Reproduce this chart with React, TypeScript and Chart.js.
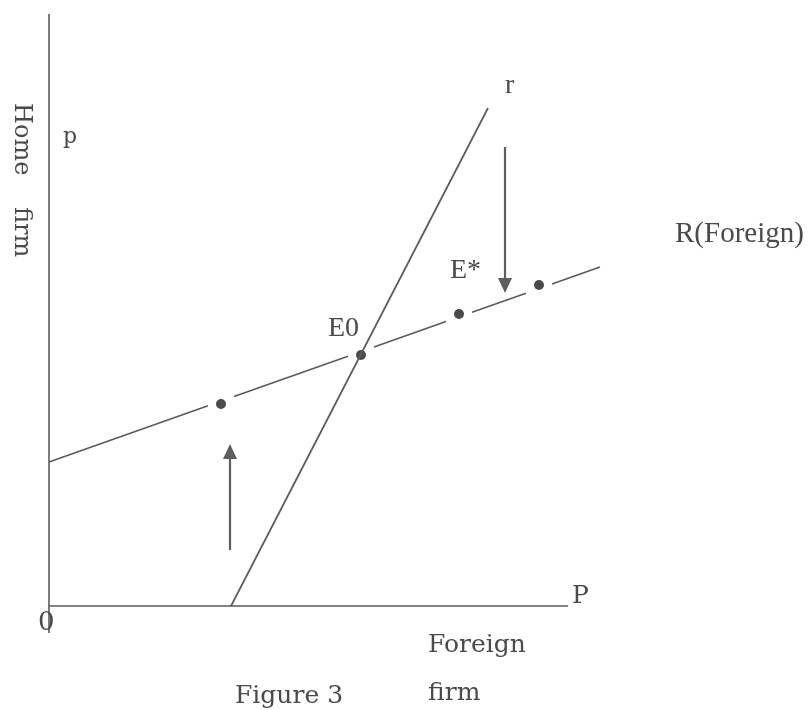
import React, { useEffect, useRef } from "react";
import { Chart, registerables } from "chart.js";

Chart.register(...registerables);

// Diagram units: 1 unit ≈ 50 px, origin at O
const rLineFoot = { x: 3.64, y: 0 };
const rLineTop = { x: 8.78, y: 9.96 };
const RLineStart = { x: 0, y: 2.88 };
const RLineEnd = { x: 11.02, y: 6.78 };
const dotX = [3.44, 6.24, 8.2, 9.8];
const dotY = [4.04, 5.02, 5.84, 6.42];
const dotGap = 0.26;
const axisYTop = 11.84;
const axisYBottom = -0.54;
const axisXEnd = 10.38;
const arrowX = [9.12, 3.62];
const arrowFrom = [9.18, 1.12];
const arrowTo = [6.26, 3.24];

const labelText = ["r", "p", "Home", "firm", "R(Foreign)", "E*", "E0", "0", "P", "Foreign", "firm", "Figure 3"];
const labelX = [9.12, 0.28, -0.68, -0.68, 12.52, 8.02, 5.58, -0.22, 10.46, 7.58, 7.58, 3.72];
const labelY = [10.26, 9.26, 10.06, 7.98, 7.28, 6.56, 5.4, -0.48, 0.06, -0.92, -1.88, -1.94];
const labelFont = [
  "28px 'Liberation Serif'",
  "22px 'DejaVu Serif'",
  "24px 'DejaVu Serif'",
  "24px 'DejaVu Serif'",
  "29px 'Liberation Serif'",
  "28px 'Liberation Serif'",
  "28px 'Liberation Serif'",
  "26px 'DejaVu Serif'",
  "25px 'DejaVu Serif'",
  "25px 'DejaVu Serif'",
  "25px 'DejaVu Serif'",
  "25px 'DejaVu Serif'",
];
const labelRotated = [false, false, true, true, false, false, false, false, false, false, false, false];

const LINE = "#5a5a5a";
const INK = "#4a4a4a";

function lineY(x: number) {
  const k = (RLineEnd.y - RLineStart.y) / (RLineEnd.x - RLineStart.x);
  return RLineStart.y + k * (x - RLineStart.x);
}

function App() {
  const ref = useRef<HTMLCanvasElement | null>(null);
  useEffect(() => {
    if (!ref.current) return;
    // R line broken around each dot
    const breaks = [RLineStart.x, ...dotX.flatMap((d) => [d - dotGap, d + dotGap]), RLineEnd.x];
    const segs: any[] = [];
    for (let i = 0; i < breaks.length; i += 2) {
      segs.push({
        data: [
          { x: breaks[i], y: lineY(breaks[i]) },
          { x: breaks[i + 1], y: lineY(breaks[i + 1]) },
        ],
        showLine: true,
        borderColor: LINE,
        borderWidth: 1.6,
        pointRadius: 0,
        clip: false,
      });
    }
    const lineDs = (pts: { x: number; y: number }[], w: number) => ({
      data: pts,
      showLine: true,
      borderColor: LINE,
      borderWidth: w,
      pointRadius: 0,
      clip: false,
    });
    const datasets: any[] = [
      lineDs([{ x: 0, y: axisYTop }, { x: 0, y: axisYBottom }], 1.6),
      lineDs([{ x: 0, y: 0 }, { x: axisXEnd, y: 0 }], 1.6),
      lineDs([rLineFoot, rLineTop], 1.7),
      ...segs,
      {
        data: dotX.map((x, i) => ({ x, y: dotY[i] })),
        showLine: false,
        pointRadius: 5,
        pointBackgroundColor: INK,
        pointBorderColor: INK,
        pointBorderWidth: 0,
        clip: false,
      },
    ];

    const overlay = {
      id: "overlay",
      afterDraw(chart: any) {
        const ctx = chart.ctx;
        const xs = chart.scales.x;
        const ys = chart.scales.y;
        ctx.save();
        // arrows
        arrowX.forEach((ax, i) => {
          const px = xs.getPixelForValue(ax);
          const p0 = ys.getPixelForValue(arrowFrom[i]);
          const p1 = ys.getPixelForValue(arrowTo[i]);
          const dir = p1 > p0 ? 1 : -1;
          const head = 15;
          const half = 7;
          ctx.strokeStyle = "#5e5e5e";
          ctx.fillStyle = "#5e5e5e";
          ctx.lineWidth = 2.2;
          ctx.beginPath();
          ctx.moveTo(px, p0);
          ctx.lineTo(px, p1 - dir * head);
          ctx.stroke();
          ctx.beginPath();
          ctx.moveTo(px, p1);
          ctx.lineTo(px - half, p1 - dir * head);
          ctx.lineTo(px + half, p1 - dir * head);
          ctx.closePath();
          ctx.fill();
        });
        // labels
        ctx.fillStyle = INK;
        ctx.textBaseline = "alphabetic";
        ctx.textAlign = "left";
        labelText.forEach((t, i) => {
          const px = xs.getPixelForValue(labelX[i]);
          const py = ys.getPixelForValue(labelY[i]);
          ctx.font = labelFont[i];
          if (labelRotated[i]) {
            ctx.save();
            ctx.translate(px, py);
            ctx.rotate(Math.PI / 2);
            ctx.fillText(t, 0, 0);
            ctx.restore();
          } else {
            ctx.fillText(t, px, py);
          }
        });
        ctx.restore();
      },
    };

    const chart = new Chart(ref.current, {
      type: "scatter",
      data: { datasets },
      options: {
        animation: false,
        responsive: false,
        devicePixelRatio: 1,
        layout: { padding: { left: 49, top: 6, right: 12, bottom: 104 }, autoPadding: false },
        scales: {
          x: { type: "linear", min: 0, max: 15, display: false },
          y: { type: "linear", min: 0, max: 12, display: false },
        },
        plugins: { legend: { display: false }, tooltip: { enabled: false } },
        events: [],
      } as any,
      plugins: [overlay],
    });
    return () => chart.destroy();
  }, []);

  return (
    <div style={{ position: "fixed", left: 0, top: 0, width: 811, height: 710, background: "#fff" }}>
      <canvas ref={ref} width={811} height={710} style={{ display: "block" }} />
    </div>
  );
}

export default App;
